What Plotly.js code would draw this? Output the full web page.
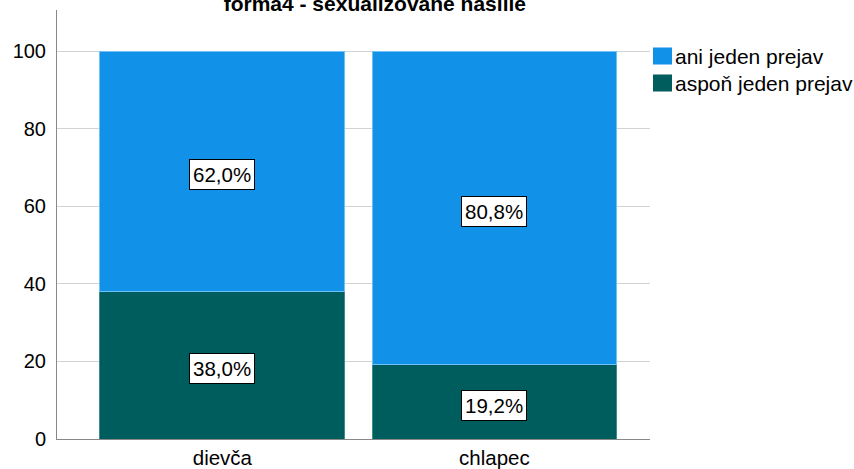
<!DOCTYPE html>
<html>
<head>
<meta charset="utf-8">
<script src="https://cdn.plot.ly/plotly-3.0.1.min.js"></script>
<style>html,body{margin:0;padding:0;background:#fff;}#chart{width:854px;height:469px;}</style>
</head>
<body>
<div id="chart"></div>
<script>
const categories = ['dievča', 'chlapec'];
const seriesNames = ['aspoň jeden prejav', 'ani jeden prejav'];
const seriesColors = ['#005d5d', '#1192e8'];
const atLeastOne = [38.0, 19.2];
const none = [62.0, 80.8];
const yTicks = [0, 20, 40, 60, 80, 100];
const titleText = 'forma4 - sexualizované násilie';

const FONT = 'Arial, Liberation Sans, sans-serif';
const fmt = v => v.toFixed(1).replace('.', ',') + '%';

// plot area geometry in pixels (for legend placement)
const W = 854, H = 469, L = 57, R = 204, T = 10, B = 30;
const pw = W - L - R, ph = H - T - B;
const px2x = p => (p - L) / pw;
const px2y = p => 1 - (p - T) / ph;

const traces = [
  {type: 'bar', name: seriesNames[0], x: categories, y: atLeastOne,
   marker: {color: seriesColors[0], line: {color: '#3f8a8a', width: 1}}, width: 0.9, hoverinfo: 'skip'},
  {type: 'bar', name: seriesNames[1], x: categories, y: none,
   marker: {color: seriesColors[1], line: {color: '#6fc0f5', width: 1}}, width: 0.9, hoverinfo: 'skip'}
];

const annotations = [];
const labelStyle = {showarrow: false, font: {family: FONT, size: 20.5, color: '#000'},
  bgcolor: '#fff', bordercolor: '#000', borderwidth: 1, borderpad: 3, yshift: -3.5, xref: 'x', yref: 'y'};
categories.forEach((c, i) => {
  annotations.push(Object.assign({}, labelStyle, {x: c, y: atLeastOne[i] / 2, text: fmt(atLeastOne[i])}));
  annotations.push(Object.assign({}, labelStyle, {x: c, y: atLeastOne[i] + none[i] / 2, text: fmt(none[i])}));
});

// custom legend (larger swatches as in reference)
const legendOrder = [1, 0];
const shapes = [];
legendOrder.forEach((si, row) => {
  const cy = 56 + row * 27;
  shapes.push({type: 'rect', xref: 'paper', yref: 'paper', x0: px2x(653), x1: px2x(672), y0: px2y(cy - 8.5), y1: px2y(cy + 8.5),
    fillcolor: seriesColors[si], line: {width: 0}, layer: 'above'});
  annotations.push({xref: 'paper', yref: 'paper', x: px2x(673), y: px2y(cy + 1), xanchor: 'left', yanchor: 'middle',
    text: seriesNames[si], showarrow: false, font: {family: FONT, size: 21, color: '#000'}});
});

const layout = {
  width: W, height: H,
  margin: {l: L, r: R, t: T, b: B, pad: 0},
  paper_bgcolor: '#fff', plot_bgcolor: '#fff',
  barmode: 'stack', bargap: 0.1,
  font: {family: FONT, size: 20, color: '#000'},
  title: {text: '<b>' + titleText + '</b>', x: 0.536, xref: 'paper', xanchor: 'center', y: 0.992, yref: 'container', yanchor: 'middle',
    font: {family: FONT, size: 21, color: '#000'}},
  xaxis: {type: 'category', range: [-0.608, 1.572], showgrid: false, showline: true, linecolor: '#888', linewidth: 1,
    ticks: '', tickfont: {size: 20.5}, zeroline: false, fixedrange: true},
  yaxis: {range: [0, 110.6], tickvals: yTicks, ticktext: yTicks.map(String), showgrid: true, gridcolor: '#d3d3d3', gridwidth: 1,
    showline: true, linecolor: '#888', linewidth: 1, ticks: '', tickfont: {size: 20}, ticklabelstandoff: 6, zeroline: false, fixedrange: true},
  annotations: annotations,
  shapes: shapes,
  showlegend: false
};

Plotly.newPlot('chart', traces, layout, {displayModeBar: false, staticPlot: true});
</script>
</body>
</html>
